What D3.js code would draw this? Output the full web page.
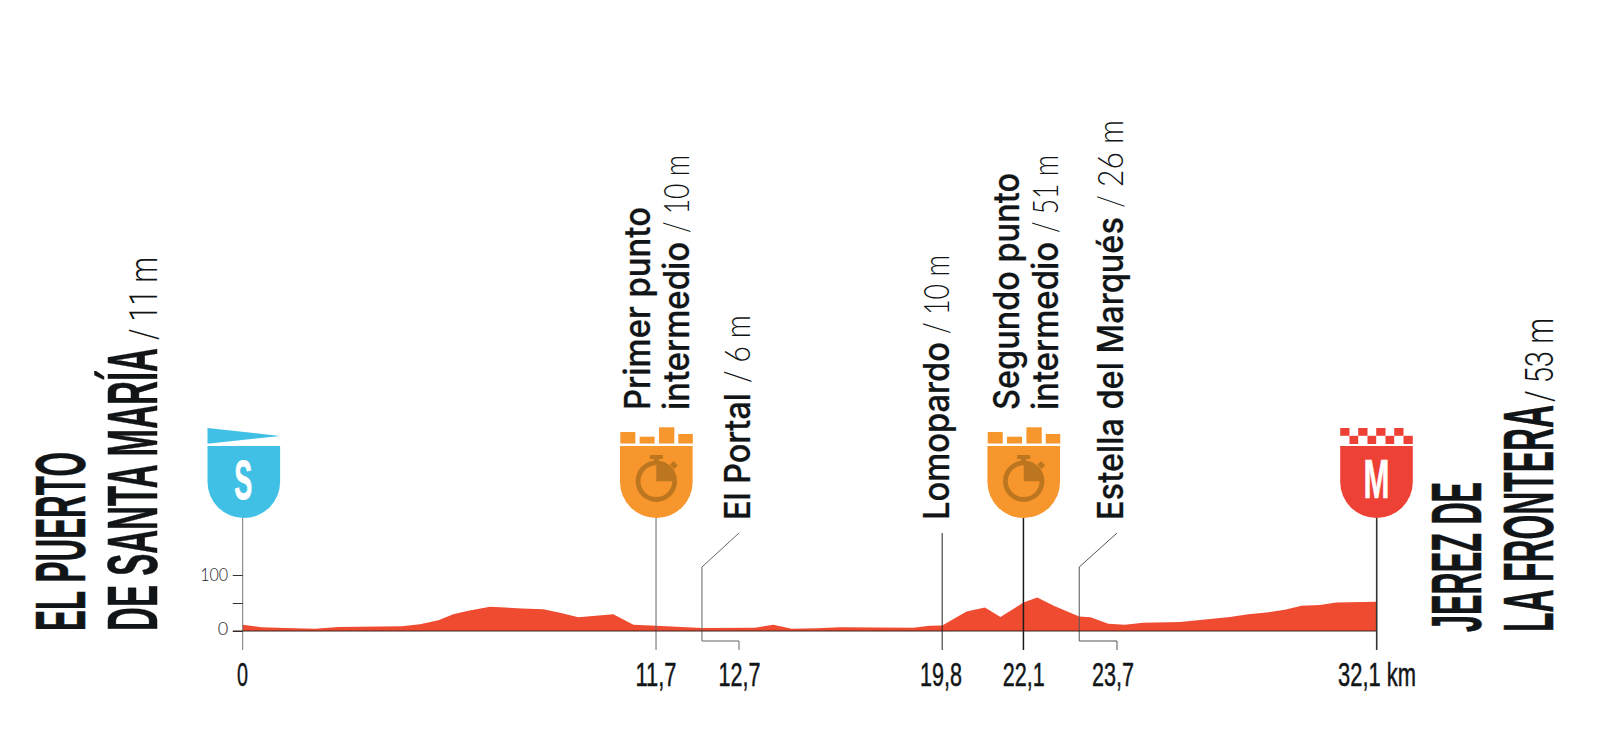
<!DOCTYPE html>
<html><head><meta charset="utf-8">
<script src="https://cdn.jsdelivr.net/npm/d3@7/dist/d3.min.js"></script>
<style>html,body{margin:0;background:#fff}svg{display:block}</style>
</head><body><svg id="c" width="1600" height="750"></svg>
<script>
// ---- data
const profileKm = [0,0.54,1.2,2.05,2.71,4.5,5.02,5.54,5.96,6.39,7.0,7.9,8.51,8.98,9.5,10.49,11.06,11.7,13.0,14.5,15.02,15.54,16.25,16.9,18.98,19.45,19.8,20.49,21.01,21.45,22.1,22.49,22.99,23.68,24.0,24.5,24.97,25.49,26.53,27.1,27.95,28.46,28.98,29.5,29.97,30.49,30.96,32.1];
const profileElev = [11,6.5,5.4,4.2,7,8.3,11.9,19,30,36,43.5,40,38.7,32.7,24.4,29.8,11.3,9.5,5.4,6,11.3,4.2,4.8,6.5,6,9.5,10,35,42,25,51,60,44,26,24.4,13,11.3,14.9,16,19.6,25,30,33,38,45,46.4,51,52.4];
const elevTicks = [0,50,100];
const elevTickLabels = ["0","","100"];
const kmLabels = ["0","11,7","12,7","19,8","22,1","23,7","32,1 km"];
const placeNames = ["El Portal","Lomopardo","Estella del Marqués"];
const placeAltitudes = ["/ 6 m","/ 10 m","/ 26 m"];
const startName = ["EL PUERTO","DE SANTA MARÍA"];
const finishName = ["JEREZ DE","LA FRONTERA"];
const startAltitude = "/ 11 m", finishAltitude = "/ 53 m";
const sprintNames = [["Primer punto","intermedio"],["Segundo punto","intermedio"]];
const sprintAltitudes = ["/ 10 m","/ 51 m"];
const sprintKm = [11.7,22.1];
const startKm = 0, finishKm = 32.1, lomopardoKm = 19.8;
const portalLeaderKm = 13.0, estellaLeaderKm = 23.68;

// ---- scales
const x = d3.scaleLinear().domain([0,32.1]).range([242.7,1376.7]);
const y = d3.scaleLinear().domain([0,100]).range([631,575]);
const svg = d3.select("#c");

const RED="#EE4B30", BLUE="#41C0E6", ORANGE="#F7962D", DARKOR="#BC761F", MRED="#EE4136", INK="#111517";
const NARROW="'Liberation Sans Narrow','Liberation Sans',sans-serif";

function vtext(str,bx,sy,len,o){
  return svg.append("text").text(str)
    .attr("transform",`translate(${bx},${sy}) rotate(-90)`)
    .attr("textLength",len).attr("lengthAdjust","spacingAndGlyphs")
    .attr("font-family",o.f).attr("font-size",o.s).attr("font-weight",o.w)
    .attr("fill",INK).attr("stroke",o.st?INK:"none").attr("stroke-width",o.st||0);
}
const big={f:NARROW,s:70,w:700,st:0.5};
const bigLight={f:"Roboto,sans-serif",s:39,w:300};
const mid={f:"Inter,'Liberation Sans',sans-serif",s:35.5,w:500,st:0.3};
const light={f:"Lato,'Liberation Sans',sans-serif",s:36,w:300};

// ---- area
svg.append("path").datum(profileKm.map((k,i)=>[k,profileElev[i]]))
  .attr("fill",RED)
  .attr("d",d3.area().x(d=>x(d[0])).y0(y(0)).y1(d=>y(d[1])));

// ---- vertical marker lines
[[startKm,"#777",1],[sprintKm[0],"#666",1],[lomopardoKm,"#222",1],[sprintKm[1],"#1a1a1a",1.5],[finishKm,"#333",1.6]].forEach(([k,c,w])=>{
  const top = k===lomopardoKm ? 533 : 518;
  svg.append("line").attr("x1",x(k)).attr("x2",x(k)).attr("y1",top).attr("y2",650)
    .attr("stroke",c).attr("stroke-width",w);
});
// leaders
const leader=d3.line();
[[portalLeaderKm,739,"#666"],[estellaLeaderKm,1117,"#555"]].forEach(([k,lx,c])=>{
  const px=x(k);
  svg.append("path").attr("fill","none").attr("stroke",c).attr("stroke-width",1)
   .attr("d",leader([[lx,533],[px,567],[px,641],[lx,641],[lx,650]]));
});

// ---- baseline + elevation axis
const yAxis=d3.axisLeft(y).tickValues(elevTicks).tickSize(10).tickSizeOuter(0)
  .tickFormat((d,i)=>elevTickLabels[i]);
const ya=svg.append("g").attr("transform",`translate(${x(0)},0)`).call(yAxis);
ya.select(".domain").remove();
ya.selectAll(".tick line").attr("stroke","#333");
ya.selectAll(".tick text").attr("font-family","Lato,sans-serif").attr("font-weight",300)
  .attr("font-size",18).attr("fill","#222").attr("x",-14.5).attr("dy","0.32em");
ya.selectAll(".tick").filter(d=>d===100).select("text")
  .attr("textLength",28).attr("lengthAdjust","spacingAndGlyphs");
ya.selectAll(".tick").filter(d=>d===0).select("text").attr("dy","0.17em");
svg.append("line").attr("x1",233).attr("x2",x(finishKm)).attr("y1",y(0)).attr("y2",y(0))
  .attr("stroke","#3a2420").attr("stroke-width",1.2);

// ---- km labels
const kmLabelX=[242.5,656,739.5,941,1023.7,1113,1338];
const kmLabelW=[11,41,42,42,42,42,78];
kmLabels.forEach((t,i)=>{
  svg.append("text").text(t).attr("x",kmLabelX[i]).attr("y",686)
    .attr("text-anchor",i===6?"start":"middle")
    .attr("textLength",kmLabelW[i]).attr("lengthAdjust","spacingAndGlyphs")
    .attr("font-family",NARROW).attr("font-size",34).attr("fill",INK)
    .attr("stroke",INK).attr("stroke-width",0.5);
});

// ---- shields
function shieldPath(cx){const l=cx-36.3,r=cx+36.3;return `M${l},446H${r}V482A36.3,36 0 0 1 ${l},482Z`;}
// start
{
  const cx=x(startKm)+1.1;
  svg.append("path").attr("d",shieldPath(cx)).attr("fill",BLUE);
  svg.append("path").attr("d",`M${cx-36.3},428L${cx+36.3},436L${cx-36.3},443.7Z`).attr("fill",BLUE);
  svg.append("text").text("S").attr("x",cx-0.5).attr("y",499).attr("text-anchor","middle")
    .attr("textLength",18).attr("lengthAdjust","spacingAndGlyphs")
    .attr("font-family",NARROW).attr("font-weight",700).attr("font-size",56).attr("fill","#fff")
    .attr("stroke","#fff").attr("stroke-width",0.8);
}
// sprints
sprintKm.forEach(k=>{
  const cx=x(k)+0.3, g=svg.append("g").attr("transform",`translate(${cx},0)`);
  g.append("path").attr("d",shieldPath(0)).attr("fill",ORANGE);
  [[-36,15,432,11.5],[-16.7,15,436.7,6.8],[2.7,15.3,427.3,16.2],[22,14.5,434,9.5]].forEach(([a,w,t,h])=>
    g.append("rect").attr("x",a).attr("width",w).attr("y",t).attr("height",h).attr("fill",ORANGE));
  g.append("circle").attr("cx",0).attr("cy",481.2).attr("r",18.3).attr("fill","none")
    .attr("stroke",DARKOR).attr("stroke-width",4.8);
  g.append("path").attr("d","M0,481.2V462A19.2,19.2 0 0 1 19.2,481.2Z").attr("fill",DARKOR);
  g.append("rect").attr("x",-6.5).attr("y",455).attr("width",13).attr("height",4).attr("fill",DARKOR);
  g.append("rect").attr("x",-2.5).attr("y",459).attr("width",5).attr("height",5).attr("fill",DARKOR);
  g.append("rect").attr("x",14.5).attr("y",462.5).attr("width",6).attr("height",5).attr("fill",DARKOR)
    .attr("transform","rotate(45 17.5 465)");
});
// finish
{
  const cx=x(finishKm)-0.2;
  svg.append("path").attr("d",shieldPath(cx)).attr("fill",MRED);
  d3.range(4).forEach(i=>{
    svg.append("rect").attr("x",cx-36.3+i*18).attr("y",428).attr("width",9.3).attr("height",7.8).attr("fill",MRED);
    svg.append("rect").attr("x",cx-27+i*18).attr("y",435.8).attr("width",i===3?9.3:8.7).attr("height",8.2).attr("fill",MRED);
  });
  svg.append("text").text("M").attr("x",cx).attr("y",498).attr("text-anchor","middle")
    .attr("textLength",26).attr("lengthAdjust","spacingAndGlyphs")
    .attr("font-family",NARROW).attr("font-weight",700).attr("font-size",55).attr("fill","#fff")
    .attr("stroke","#fff").attr("stroke-width",0.5);
}

// ---- rotated texts
vtext(startName[0],85,631,179,big);
vtext(startName[1],157,631,283,big);
vtext(startAltitude,157,340,83,bigLight);
vtext(finishName[0],1481,632,150,big);
vtext(finishName[1],1553,632,227,big);
vtext(finishAltitude,1553,402,84,bigLight);

vtext(sprintNames[0][0],649.5,410,203,mid);
vtext(sprintNames[0][1],689,410,168,mid);
vtext(sprintAltitudes[0],689,233,78,light);
vtext(sprintNames[1][0],1018.5,410,237,mid);
vtext(sprintNames[1][1],1057.5,410,168,mid);
vtext(sprintAltitudes[1],1057.5,233,78,light);

vtext(placeNames[0],749.5,520,127,mid);
vtext(placeAltitudes[0],749.5,383,68,light);
vtext(placeNames[1],949,520,178,mid);
vtext(placeAltitudes[1],949,334,79,light);
vtext(placeNames[2],1122.5,520,303,mid);
vtext(placeAltitudes[2],1122.5,208,88,light);
</script></body></html>
